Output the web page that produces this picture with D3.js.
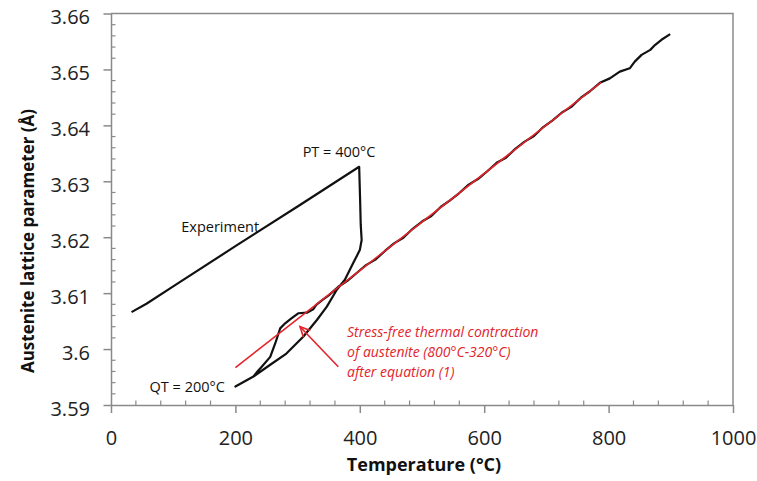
<!DOCTYPE html>
<html>
<head>
<meta charset="utf-8">
<script src="https://cdn.jsdelivr.net/npm/d3@7"></script>
<style>
  body { margin: 0; background: #fff; }
  text { font-family: "Open Sans", sans-serif; }
</style>
</head>
<body>
<svg id="chart" width="757" height="481"></svg>
<script>
// axis ticks
var tempTicks = [0, 200, 400, 600, 800, 1000];
var latticeTicks = [3.59, 3.6, 3.61, 3.62, 3.63, 3.64, 3.65, 3.66];

// experiment: cooling from 900, quench to QT, reheat to PT, final cooling
var expTemp = [
  899, 885, 875, 867, 853, 842, 834, 818, 802, 786,
  770, 755, 740, 725, 710, 695, 680, 665, 650, 635, 620, 605, 590, 575, 560,
  545, 530, 515, 500, 485, 470, 455, 440, 425, 410, 395, 380, 365, 350, 340,
  330, 325, 315, 301, 290, 280, 272, 264, 256, 242, 234, 229, 200,
  229, 256, 282, 309, 331, 347, 363, 376, 389, 400, 403, 401.5, 400.5, 399,
  300, 200, 100, 57, 33
];
var expLattice = [
  3.6563, 3.6553, 3.6544, 3.6535, 3.6526, 3.6514, 3.6502, 3.6496, 3.6484, 3.6476,
  3.6461, 3.6449, 3.6433, 3.6423, 3.6409, 3.6397, 3.6381, 3.6371, 3.6358, 3.6342,
  3.6333, 3.6318, 3.6304, 3.6294, 3.6279, 3.6266, 3.6254, 3.6238, 3.6228, 3.6215,
  3.6199, 3.6189, 3.6175, 3.6160, 3.6150, 3.6136, 3.6122, 3.6111, 3.6096, 3.6088,
  3.6079, 3.6071, 3.6065, 3.6064, 3.6055, 3.6046, 3.6037, 3.6010, 3.5986, 3.5968,
  3.5958, 3.5951, 3.5933,
  3.5951, 3.5972, 3.5992, 3.6022, 3.6052, 3.6076, 3.6106, 3.6124, 3.6153, 3.6177,
  3.6195, 3.6222, 3.6267, 3.6326,
  3.6255, 3.6184, 3.6112, 3.6081, 3.6066
];

// stress-free thermal contraction, equation (1)
var fitTemp = [200, 788];
var fitLattice = [3.5967, 3.6477];

var svg = d3.select("#chart");

var x = d3.scaleLinear().domain([0, 1000]).range([111, 733]);
var y = d3.scaleLinear().domain([3.59, 3.66]).range([405, 13.5]);

var axisColor = "#8a8a8a";

// plot frame (top and right)
svg.append("path")
  .attr("d", "M" + x(0) + "," + y(3.66) + "H" + x(1000) + "V" + y(3.59))
  .attr("fill", "none")
  .attr("stroke", axisColor)
  .attr("stroke-width", 1.5);

// minor ticks, drawn inside the plot
var xMinor = d3.range(0, 1000, 40).filter(function (d) { return d % 200 !== 0; });
svg.selectAll(".xminor")
  .data(xMinor)
  .enter()
  .append("line")
  .attr("x1", function (d) { return x(d); })
  .attr("x2", function (d) { return x(d); })
  .attr("y1", y(3.59))
  .attr("y2", y(3.59) - 4.5)
  .attr("stroke", axisColor)
  .attr("stroke-width", 1.2);

var yMinor = d3.range(0, 35).filter(function (i) { return i % 5 !== 0; })
  .map(function (i) { return 3.59 + i * 0.002; });
svg.selectAll(".yminor")
  .data(yMinor)
  .enter()
  .append("line")
  .attr("x1", x(0))
  .attr("x2", x(0) + 4.5)
  .attr("y1", function (d) { return y(d); })
  .attr("y2", function (d) { return y(d); })
  .attr("stroke", axisColor)
  .attr("stroke-width", 1.2);

// axes
var xAxis = svg.append("g")
  .attr("transform", "translate(0," + y(3.59) + ")")
  .call(d3.axisBottom(x).tickValues(tempTicks).tickSize(8).tickSizeOuter(0).tickPadding(18)
    .tickFormat(function (d) { return String(d); }));

var yAxis = svg.append("g")
  .attr("transform", "translate(" + x(0) + ",0)")
  .call(d3.axisLeft(y).tickValues(latticeTicks).tickSize(7.5).tickSizeOuter(0).tickPadding(13.5)
    .tickFormat(function (d) { return String(d); }));

[xAxis, yAxis].forEach(function (g) {
  g.select(".domain").attr("stroke", axisColor).attr("stroke-width", 1.5);
  g.selectAll(".tick line").attr("stroke", axisColor).attr("stroke-width", 1.5);
  g.selectAll(".tick text")
    .attr("font-family", "'Open Sans', sans-serif")
    .attr("font-size", "20px")
    .attr("fill", "#222");
});
yAxis.selectAll(".tick text").attr("dy", "0.5em");

// axis titles
svg.append("text")
  .attr("x", 424)
  .attr("y", 471)
  .attr("text-anchor", "middle")
  .attr("font-size", "18px")
  .attr("font-weight", "bold")
  .attr("fill", "#111")
  .text("Temperature (°C)");

svg.append("text")
  .attr("transform", "translate(34,241) rotate(-90)")
  .attr("text-anchor", "middle")
  .attr("font-size", "17px")
  .attr("font-weight", "bold")
  .attr("fill", "#111")
  .text("Austenite lattice parameter (Å)");

// experiment curve
var expPoints = expTemp.map(function (t, i) { return [t, expLattice[i]]; });
var line = d3.line()
  .x(function (d) { return x(d[0]); })
  .y(function (d) { return y(d[1]); });

svg.append("path")
  .datum(expPoints)
  .attr("d", line)
  .attr("fill", "none")
  .attr("stroke", "#111")
  .attr("stroke-width", 2.2)
  .attr("stroke-linejoin", "round");

// fitted line
var fitPoints = fitTemp.map(function (t, i) { return [t, fitLattice[i]]; });
var red = "#e3242b";
svg.append("path")
  .datum(fitPoints)
  .attr("d", line)
  .attr("fill", "none")
  .attr("stroke", red)
  .attr("stroke-width", 1.6);

// labels
function label(t, a, str, anchor) {
  svg.append("text")
    .attr("x", x(t))
    .attr("y", y(a))
    .attr("text-anchor", anchor)
    .attr("font-size", "14.5px")
    .attr("fill", "#111")
    .text(str);
}
label(366.6, 3.6344, "PT = 400°C", "middle");
label(113, 3.621, "Experiment", "start");
label(62, 3.5924, "QT = 200°C", "start");

// red annotation
var noteLines = ["Stress-free thermal contraction", "of austenite (800°C-320°C)", "after equation (1)"];
svg.selectAll(".note")
  .data(noteLines)
  .enter()
  .append("text")
  .attr("x", 347)
  .attr("y", function (d, i) { return 336.5 + i * 20; })
  .attr("font-size", "14px")
  .attr("font-style", "italic")
  .attr("fill", red)
  .text(function (d) { return d; });

// arrow to the fitted line
var tail = [x(365.4), y(3.59685)];
var tip = [x(303.9), y(3.6040)];
var ang = Math.atan2(tip[1] - tail[1], tip[0] - tail[0]);
var wing = 11;
svg.append("line")
  .attr("x1", tail[0]).attr("y1", tail[1])
  .attr("x2", tip[0]).attr("y2", tip[1])
  .attr("stroke", red)
  .attr("stroke-width", 1.6);
svg.append("path")
  .attr("d",
    "M" + (tip[0] - wing * Math.cos(ang - 0.45)) + "," + (tip[1] - wing * Math.sin(ang - 0.45)) +
    "L" + tip[0] + "," + tip[1] +
    "L" + (tip[0] - wing * Math.cos(ang + 0.45)) + "," + (tip[1] - wing * Math.sin(ang + 0.45)))
  .attr("fill", "none")
  .attr("stroke", red)
  .attr("stroke-width", 1.6);
</script>
</body>
</html>
